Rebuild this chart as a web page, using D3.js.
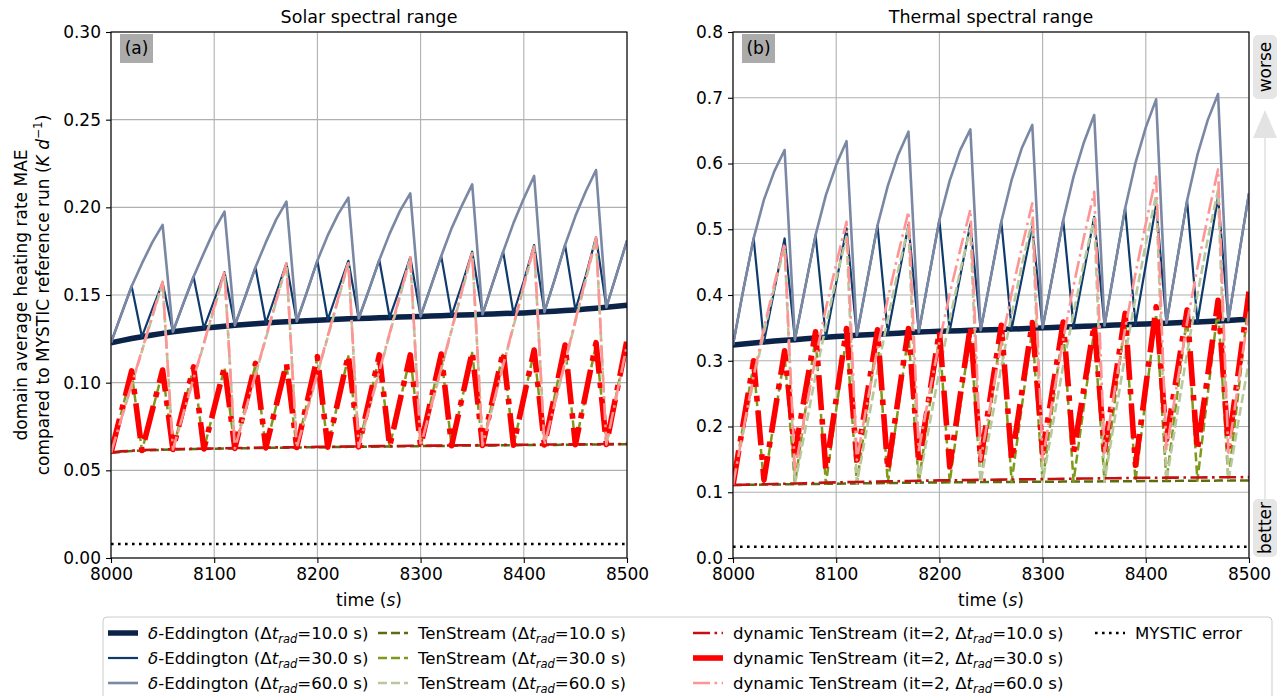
<!DOCTYPE html>
<html><head><meta charset="utf-8">
<script src="https://cdn.jsdelivr.net/npm/d3@7"></script>
<style>
body{margin:0;background:#fff}
svg text{font-family:"DejaVu Sans",sans-serif;fill:#000}
</style>
</head><body>
<svg id="chart" width="1282" height="696"></svg>
<script>
// ---------------- data ----------------
const times = d3.range(8000, 8501, 10);
const xTicks = [8000, 8100, 8200, 8300, 8400, 8500];
const solarYTicks = [0, 0.05, 0.10, 0.15, 0.20, 0.25, 0.30];
const thermalYTicks = [0, 0.1, 0.2, 0.3, 0.4, 0.5, 0.6, 0.7, 0.8];

// Solar spectral range
const solarDE10 = [.1228,.1240,.1252,.1262,.1272,.1281,.1290,.1298,.1305,.1311,
 .1316,.1322,.1327,.1332,.1336,.1340,.1344,.1347,.1350,.1353,
 .1356,.1359,.1362,.1364,.1366,.1368,.1370,.1372,.1374,.1376,
 .1378,.1380,.1382,.1384,.1386,.1388,.1390,.1392,.1394,.1396,
 .1398,.1401,.1404,.1407,.1411,.1415,.1420,.1425,.1430,.1436,.1442];
const solarDE30 = [.1228,.139,.155,.1262,.142,.157,.129,.145,.1604,.1311,
 .147,.163,.1327,.149,.1658,.134,.151,.168,.135,.152,
 .1696,.1359,.153,.1695,.1366,.153,.170,.1372,.154,.1715,
 .1378,.155,.1722,.1384,.156,.1747,.139,.157,.1747,.1396,
 .158,.1785,.1404,.159,.1785,.1415,.161,.1829,.143,.162,.181];
const solarDE60 = [.1228,.139,.155,.168,.180,.190,.129,.145,.1604,.174,
 .187,.1975,.1327,.149,.1658,.180,.193,.2032,.135,.152,
 .1696,.184,.196,.2055,.1366,.153,.170,.185,.198,.208,
 .1378,.155,.1722,.188,.201,.2131,.139,.157,.1747,.191,
 .205,.2179,.1404,.159,.1785,.195,.209,.2213,.143,.162,.181];
const solarTS10 = [.0600,.0606,.0610,.0613,.0615,.0617,.0619,.0620,.0621,.0622,
 .0623,.0624,.0625,.0626,.0627,.0628,.0629,.0629,.0630,.0631,
 .0632,.0632,.0633,.0634,.0634,.0635,.0636,.0636,.0637,.0638,
 .0638,.0639,.0639,.0640,.0641,.0641,.0642,.0642,.0643,.0643,
 .0644,.0644,.0645,.0645,.0646,.0646,.0647,.0647,.0648,.0648,.0649];
const solarTS30 = [.0600,.0830,.1058,.0612,.0838,.1064,.0618,.0850,.1082,.0621,
 .0852,.1083,.0624,.0863,.1102,.0627,.0865,.1103,.0629,.0885,
 .1140,.0631,.0891,.1150,.0633,.0891,.1149,.0635,.0892,.1150,
 .0637,.0897,.1156,.0639,.0905,.1170,.0641,.0905,.1169,.0642,
 .0910,.1178,.0644,.0925,.1206,.0645,.0932,.1219,.0647,.0941,.1235];
const solarTS60 = [.0600,.0793,.0986,.1180,.1374,.1568,.0618,.0819,.1020,.1221,
 .1423,.1625,.0624,.0833,.1042,.1251,.1461,.1671,.0629,.0839,
 .1049,.1259,.1470,.1681,.0633,.0847,.1061,.1276,.1491,.1706,
 .0637,.0857,.1077,.1297,.1517,.1738,.0641,.0867,.1094,.1321,
 .1548,.1776,.0644,.0878,.1113,.1348,.1584,.1819,.0647,.0925,.1205];
const solarDyn10 = [.0601,.0608,.0612,.0615,.0617,.0619,.0621,.0622,.0623,.0624,
 .0625,.0626,.0627,.0628,.0629,.0630,.0631,.0631,.0632,.0633,
 .0634,.0634,.0635,.0636,.0636,.0637,.0638,.0638,.0639,.0640,
 .0640,.0641,.0641,.0642,.0643,.0643,.0644,.0644,.0645,.0645,
 .0646,.0646,.0647,.0647,.0648,.0648,.0649,.0649,.0650,.0650,.0651];
const solarDyn30 = [.0600,.0834,.1067,.0613,.0843,.1072,.0619,.0855,.1090,.0622,
 .0856,.1090,.0625,.0868,.1110,.0628,.0869,.1110,.0630,.0889,
 .1148,.0632,.0895,.1158,.0634,.0896,.1158,.0636,.0897,.1158,
 .0638,.0901,.1163,.0640,.0909,.1177,.0642,.0910,.1177,.0643,
 .0915,.1186,.0645,.0930,.1215,.0646,.0937,.1228,.0648,.0946,.1243];
const solarDyn60 = [.0600,.0795,.0990,.1186,.1381,.1576,.0619,.0822,.1025,.1227,
 .1430,.1633,.0625,.0836,.1047,.1258,.1469,.1680,.0630,.0842,
 .1054,.1266,.1478,.1690,.0634,.0850,.1066,.1283,.1499,.1715,
 .0638,.0860,.1082,.1303,.1525,.1747,.0642,.0871,.1099,.1328,
 .1556,.1785,.0645,.0882,.1119,.1355,.1592,.1829,.0648,.0930,.1215];
const solarMystic = [0.008];

// Thermal spectral range
const thermalDE10 = [.3240,.3255,.3270,.3285,.3300,.3310,.3320,.3333,.3345,.3357,
 .3370,.3378,.3386,.3394,.3402,.3410,.3420,.3428,.3436,.3443,
 .3450,.3454,.3458,.3462,.3466,.3470,.3476,.3482,.3488,.3494,
 .3500,.3506,.3512,.3518,.3524,.3530,.3536,.3542,.3548,.3554,
 .3560,.3566,.3572,.3578,.3584,.3590,.3598,.3606,.3614,.3622,.3630];
const thermalDE30 = [.324,.408,.486,.3285,.407,.486,.332,.412,.491,.3357,
 .418,.5014,.3386,.422,.5055,.341,.424,.5065,.3436,.429,
 .514,.3454,.427,.508,.3466,.429,.5115,.3482,.426,.504,
 .350,.432,.514,.3518,.435,.519,.3536,.443,.532,.3554,
 .446,.537,.3572,.450,.5435,.359,.454,.5495,.3614,.458,.555];
const thermalDE60 = [.324,.408,.486,.545,.588,.6205,.332,.412,.491,.552,
 .598,.634,.3386,.422,.5055,.566,.613,.6484,.3436,.429,
 .514,.574,.620,.652,.3466,.429,.5115,.575,.624,.6586,
 .350,.432,.514,.580,.632,.6738,.3536,.443,.532,.601,
 .655,.6976,.3572,.450,.5435,.613,.666,.7057,.3614,.458,.555];
const thermalTS10 = [.1110,.1112,.1114,.1116,.1118,.1120,.1122,.1124,.1126,.1128,
 .1130,.1132,.1134,.1136,.1138,.1140,.1142,.1144,.1146,.1148,
 .1150,.1151,.1152,.1153,.1154,.1155,.1156,.1157,.1158,.1159,
 .1160,.1161,.1162,.1163,.1164,.1165,.1166,.1167,.1168,.1169,
 .1170,.1171,.1172,.1173,.1174,.1175,.1176,.1177,.1178,.1179,.1180];
const thermalTS30 = [.111,.203,.295,.1116,.2098,.308,.1122,.2236,.335,.1128,
 .2254,.338,.1134,.2257,.338,.1140,.227,.340,.1146,.2258,
 .337,.1151,.2291,.343,.1154,.2302,.345,.1157,.2319,.348,
 .116,.233,.350,.1163,.2312,.346,.1166,.2393,.362,.1169,
 .244,.371,.1172,.2426,.368,.1175,.2493,.381,.1178,.2564,.395];
const thermalTS60 = [.111,.1908,.2705,.343,.4119,.4735,.1122,.195,.2779,.3532,
 .4247,.4887,.1134,.1993,.2853,.3634,.4376,.504,.1146,.1997,
 .2848,.3622,.4356,.5014,.1154,.2031,.2908,.3705,.4462,.514,
 .116,.2041,.2923,.3724,.4485,.5166,.1166,.2124,.3082,.3953,
 .478,.552,.1172,.2146,.3119,.4004,.4845,.5597,.1178,.210,.300];
const thermalDyn10 = [.1110,.1114,.1118,.1122,.1126,.1130,.1134,.1138,.1142,.1146,
 .1150,.1153,.1156,.1159,.1162,.1165,.1168,.1171,.1174,.1177,
 .1180,.1182,.1184,.1186,.1188,.1190,.1192,.1194,.1196,.1198,
 .1200,.1202,.1204,.1206,.1208,.1210,.1212,.1214,.1216,.1218,
 .1220,.1221,.1222,.1223,.1224,.1225,.1226,.1227,.1228,.1229,.1230];
const thermalDyn30 = [.111,.2055,.300,.119,.217,.315,.160,.252,.344,.134,
 .2415,.349,.149,.248,.347,.134,.2415,.349,.144,.2445,
 .345,.139,.2455,.352,.149,.2515,.354,.149,.2535,.358,
 .160,.2595,.359,.160,.2575,.355,.164,.268,.372,.141,
 .2615,.382,.180,.2785,.377,.164,.278,.392,.169,.287,.405];
const thermalDyn60 = [.111,.1956,.2765,.350,.4162,.4787,.134,.2208,.3039,.3794,
 .4473,.5115,.149,.2359,.3190,.3945,.4625,.5267,.164,.2482,
 .3287,.4019,.4678,.530,.149,.2388,.3247,.4028,.4731,.5395,
 .149,.2428,.3326,.4142,.4876,.557,.160,.2566,.349,.433,
 .5086,.580,.164,.2622,.3579,.4416,.5184,.591,.160,.270,.375];
const thermalMystic = [0.017];

const seriesDtLabels = ["10.0", "30.0", "60.0"];

// ---------------- styles ----------------
const styles = {
  DE10: {color:"#0b2349", w:5.5, dash:null},
  DE30: {color:"#0e3a6c", w:2.2, dash:null},
  DE60: {color:"#7b88a4", w:2.6, dash:null},
  TS10: {color:"#5a6e0f", w:2.5, dash:"9,4"},
  TS30: {color:"#7e9a1a", w:2.5, dash:"9,4"},
  TS60: {color:"#b9c89c", w:2.6, dash:"9,4"},
  Dyn10:{color:"#c41010", w:2.6, dash:"17,4.5,2.6,4.5"},
  Dyn30:{color:"#ff0000", w:5.6, dash:"35,9,5.6,9"},
  Dyn60:{color:"#ff9494", w:2.6, dash:"17,4.5,2.6,4.5"},
  Mystic:{color:"#000000", w:2.6, dash:"2.6,4.4"}
};
const order = ["DE10","DE30","DE60","TS10","TS30","TS60","Dyn10","Dyn30","Dyn60"];

const svg = d3.select("#chart");
const FONT = 17;
const TFONT = 17.5;

const panels = [
  {left:111, right:627, top:32, bottom:558, ymax:0.30, ticks:solarYTicks, fmt:d3.format(".2f"),
   title:"Solar spectral range", tag:"(a)", mystic:solarMystic,
   data:{DE10:solarDE10,DE30:solarDE30,DE60:solarDE60,TS10:solarTS10,TS30:solarTS30,TS60:solarTS60,Dyn10:solarDyn10,Dyn30:solarDyn30,Dyn60:solarDyn60}},
  {left:733, right:1249, top:32, bottom:558, ymax:0.8, ticks:thermalYTicks, fmt:d3.format(".1f"),
   title:"Thermal spectral range", tag:"(b)", mystic:thermalMystic,
   data:{DE10:thermalDE10,DE30:thermalDE30,DE60:thermalDE60,TS10:thermalTS10,TS30:thermalTS30,TS60:thermalTS60,Dyn10:thermalDyn10,Dyn30:thermalDyn30,Dyn60:thermalDyn60}}
];

panels.forEach((p, i) => {
  const x = d3.scaleLinear().domain([8000, 8500]).range([p.left, p.right]);
  const y = d3.scaleLinear().domain([0, p.ymax]).range([p.bottom, p.top]);
  const g = svg.append("g");
  const clipId = "clip" + i;
  svg.append("defs").append("clipPath").attr("id", clipId)
    .append("rect").attr("x", p.left).attr("y", p.top)
    .attr("width", p.right - p.left).attr("height", p.bottom - p.top);

  // grid
  g.selectAll(".gx").data(xTicks).join("line")
    .attr("x1", d => x(d)).attr("x2", d => x(d)).attr("y1", p.top).attr("y2", p.bottom)
    .attr("stroke", "#b0b0b0").attr("stroke-width", 1.1);
  g.selectAll(".gy").data(p.ticks).join("line")
    .attr("y1", d => y(d)).attr("y2", d => y(d)).attr("x1", p.left).attr("x2", p.right)
    .attr("stroke", "#b0b0b0").attr("stroke-width", 1.1);

  // series
  const lg = g.append("g").attr("clip-path", `url(#${clipId})`);
  const line = d3.line().x((d, k) => x(times[k])).y(d => y(d));
  order.forEach(key => {
    const s = styles[key];
    lg.append("path").datum(p.data[key]).attr("d", line)
      .attr("fill", "none").attr("stroke", s.color).attr("stroke-width", s.w)
      .attr("stroke-dasharray", s.dash).attr("stroke-linejoin", "round");
  });
  const ms = styles.Mystic;
  lg.selectAll(".my").data(p.mystic).join("line")
    .attr("x1", x(8000)).attr("x2", x(8500)).attr("y1", d => y(d)).attr("y2", d => y(d))
    .attr("stroke", ms.color).attr("stroke-width", ms.w).attr("stroke-dasharray", ms.dash);

  // axes
  const xa = g.append("g").attr("transform", `translate(0,${p.bottom})`)
    .call(d3.axisBottom(x).tickValues(xTicks).tickFormat(d3.format("d")).tickSize(5).tickPadding(5));
  const ya = g.append("g").attr("transform", `translate(${p.left},0)`)
    .call(d3.axisLeft(y).tickValues(p.ticks).tickFormat(p.fmt).tickSize(5).tickPadding(5));
  [xa, ya].forEach(a => {
    a.select(".domain").remove();
    a.selectAll("line").attr("stroke", "#000").attr("stroke-width", 1.1);
    a.selectAll("text").attr("font-size", FONT).attr("font-family", "DejaVu Sans");
  });
  // frame
  g.append("rect").attr("x", p.left).attr("y", p.top)
    .attr("width", p.right - p.left).attr("height", p.bottom - p.top)
    .attr("fill", "none").attr("stroke", "#000").attr("stroke-width", 1.1);

  // title
  g.append("text").attr("x", (p.left + p.right) / 2).attr("y", 23)
    .attr("text-anchor", "middle").attr("font-size", TFONT).text(p.title);
  // x label
  const xl = g.append("text").attr("x", (p.left + p.right) / 2).attr("y", 606)
    .attr("text-anchor", "middle").attr("font-size", FONT);
  xl.append("tspan").text("time (");
  xl.append("tspan").attr("font-style", "italic").text("s");
  xl.append("tspan").text(")");
  // panel tag
  g.append("rect").attr("x", p.left + 9).attr("y", p.top + 2).attr("width", 33).attr("height", 29)
    .attr("fill", "#ababab");
  g.append("text").attr("x", p.left + 25.5).attr("y", p.top + 22).attr("text-anchor", "middle")
    .attr("font-size", FONT).text(p.tag);
});

// y label (two lines)
svg.append("text").attr("transform", "translate(27,295) rotate(-90)")
  .attr("text-anchor", "middle").attr("font-size", FONT).text("domain average heating rate MAE");
const yl2 = svg.append("text").attr("transform", "translate(49,295) rotate(-90)")
  .attr("text-anchor", "middle").attr("font-size", FONT);
yl2.append("tspan").text("compared to MYSTIC reference run (");
yl2.append("tspan").attr("font-style", "italic").text("K d");
yl2.append("tspan").attr("font-size", 12).attr("dy", -7).text("\u22121");
yl2.append("tspan").attr("dy", 7).text(")");

// worse / better annotation
const ax = 1265;
svg.append("line").attr("x1", ax).attr("x2", ax).attr("y1", 500).attr("y2", 136)
  .attr("stroke", "#e0e0e0").attr("stroke-width", 1.5);
svg.append("path").attr("d", `M${ax - 12},${138} L${ax + 12},${138} L${ax},${110} Z`).attr("fill", "#e3e3e3");
[{t:"worse", cy:67}, {t:"better", cy:528}].forEach(a => {
  const h = a.t === "worse" ? 64 : 58;
  svg.append("rect").attr("x", ax - 12).attr("y", a.cy - h / 2).attr("width", 24).attr("height", h)
    .attr("rx", 5).attr("fill", "#e6e6e6");
  svg.append("text").attr("transform", `translate(${ax + 6},${a.cy}) rotate(-90)`)
    .attr("text-anchor", "middle").attr("font-size", FONT).text(a.t);
});

// legend
const LFONT = 16.6;
svg.append("rect").attr("x", 103).attr("y", 617).attr("width", 1169).attr("height", 95)
  .attr("rx", 4).attr("fill", "#fff").attr("stroke", "#cccccc").attr("stroke-width", 1);
const colX = [108, 378, 693, 1095];
const rowY = [633, 658, 683];
const legendEntries = [];
order.forEach((k, idx) => legendEntries.push({key:k, col:Math.floor(idx / 3), row:idx % 3, dt:seriesDtLabels[idx % 3]}));
legendEntries.push({key:"Mystic", col:3, row:0});

legendEntries.forEach(e => {
  const s = styles[e.key];
  const hx = colX[e.col], hy = rowY[e.row];
  svg.append("line").attr("x1", hx).attr("x2", hx + 30).attr("y1", hy).attr("y2", hy)
    .attr("stroke", s.color).attr("stroke-width", s.w).attr("stroke-dasharray", s.dash);
  const t = svg.append("text").attr("x", hx + 40).attr("y", hy + 6).attr("font-size", LFONT);
  if (e.key === "Mystic") { t.text("MYSTIC error"); return; }
  if (e.key.startsWith("DE")) {
    t.append("tspan").attr("font-style", "italic").text("\u03b4");
    t.append("tspan").text("-Eddington (\u0394");
  } else if (e.key.startsWith("TS")) {
    t.append("tspan").text("TenStream (\u0394");
  } else {
    t.append("tspan").text("dynamic TenStream (it=2, \u0394");
  }
  t.append("tspan").attr("font-style", "italic").text("t");
  t.append("tspan").attr("font-style", "italic").attr("font-size", 11.5).attr("dy", 3.5).text("rad");
  t.append("tspan").attr("dy", -3.5).text("=" + e.dt + " s)");
});
</script>
</body></html>
